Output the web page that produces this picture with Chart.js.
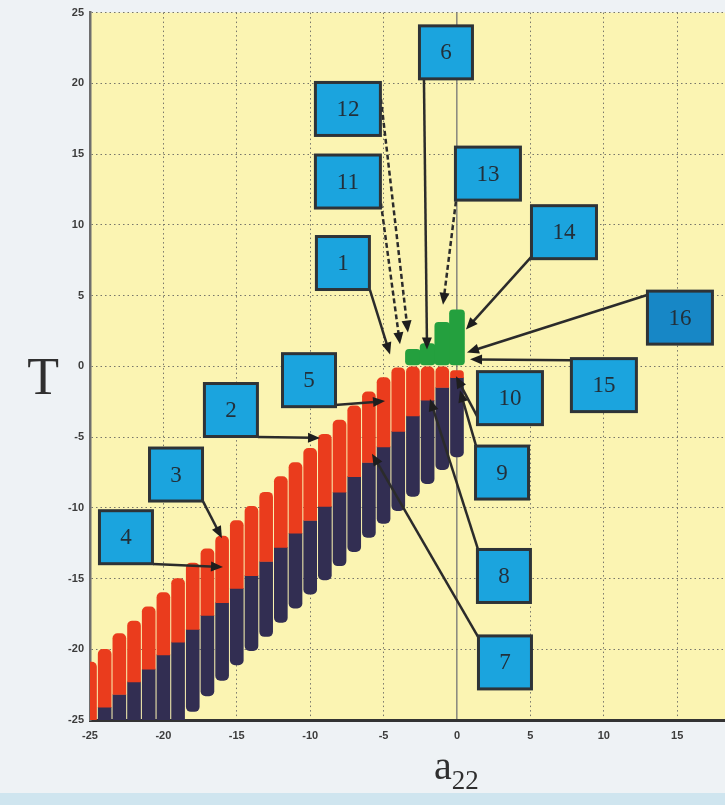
<!DOCTYPE html>
<html>
<head>
<meta charset="utf-8">
<script src="https://cdn.jsdelivr.net/npm/chart.js@4"></script>
<style>
  html, body { margin: 0; padding: 0; background: #eef2f5; }
  #wrap { width: 725px; height: 805px; }
</style>
</head>
<body>
<div id="wrap"><canvas id="chart" width="725" height="805"></canvas></div>
<script>
// a22 positions of the point columns
const columnA22 = [-25, -24, -23, -22, -21, -20, -19, -18, -17, -16, -15, -14, -13, -12, -11, -10, -9, -8, -7, -6, -5, -4, -3, -2, -1, 0];
// T range per column: dark region (low -> boundary), red region (boundary -> high)
const darkLowT  = [-25.5, -25.5, -25.5, -25.5, -25.5, -25.5, -25.5, -24.4, -23.3, -22.2, -21.1, -20.1, -19.1, -18.1, -17.1, -16.1, -15.1, -14.1, -13.1, -12.1, -11.1, -10.2, -9.2, -8.3, -7.3, -6.4];
const boundaryT = [-25.0, -24.1, -23.2, -22.3, -21.4, -20.4, -19.5, -18.6, -17.6, -16.7, -15.7, -14.8, -13.8, -12.8, -11.8, -10.9, -9.9, -8.9, -7.8, -6.8, -5.7, -4.6, -3.5, -2.4, -1.5, -0.8];
const redHighT  = [-20.9, -20.0, -18.9, -18.0, -17.0, -16.0, -15.0, -13.9, -12.9, -12.0, -10.9, -9.9, -8.9, -7.8, -6.8, -5.8, -4.8, -3.8, -2.8, -1.8, -0.8, -0.1, 0.0, 0.0, 0.0, -0.3];
// small green region above the tip
const greenA22 = [-3, -2, -1, 0];
const greenLowT = [0.1, 0.1, 0.1, 0.1];
const greenHighT = [1.2, 1.6, 3.1, 4.0];

const xTicks = [-25, -20, -15, -10, -5, 0, 5, 10, 15];
const yTicks = [-25, -20, -15, -10, -5, 0, 5, 10, 15, 20, 25];

// numbered callouts: box centre, arrow tail and arrow tip (a22, T)
const calloutLabels = ['1', '2', '3', '4', '5', '6', '7', '8', '9', '10', '11', '12', '13', '14', '15', '16'];
const calloutBoxX  = [-7.77, -15.40, -19.14, -22.55, -10.08, -0.75, 3.27, 3.20, 3.07, 3.61, -7.43, -7.43, 2.11, 7.29, 10.01, 15.19];
const calloutBoxY  = [7.30, -3.09, -7.65, -12.08, -0.98, 22.19, -20.93, -14.82, -7.51, -2.25, 13.06, 18.19, 13.62, 9.48, -1.33, 3.44];
const calloutTailX = [-5.93, -13.56, -17.30, -20.71, -8.31, -2.25, 1.43, 1.43, 1.36, 1.43, -5.18, -5.18, -0.07, 5.11, 7.83, 13.01];
const calloutTailY = [5.41, -4.99, -9.55, -13.97, -2.74, 20.29, -19.10, -12.92, -5.83, -3.65, 11.52, 18.89, 11.66, 7.79, 0.42, 5.06];
const calloutTipX  = [-4.56, -9.33, -16.01, -15.94, -4.90, -2.04, -5.79, -1.84, 0.20, -0.07, -3.88, -3.34, -0.95, 0.61, 0.89, 0.68];
const calloutTipY  = [0.84, -5.06, -12.15, -14.19, -2.46, 1.19, -6.18, -2.32, -1.69, -0.70, 1.55, 2.39, 4.35, 2.60, 0.49, 0.98];
const wideBoxes = ['10', '11', '12', '13', '14', '15', '16'];
const dashedArrows = ['11', '12', '13'];

const backdrop = {
  id: 'backdrop',
  beforeDraw(chart) {
    const { ctx, chartArea: a, width, height } = chart;
    ctx.save();
    ctx.fillStyle = '#eef2f5';
    ctx.fillRect(0, 0, width, height);
    ctx.fillStyle = '#cfe5ef';
    ctx.fillRect(0, height - 12, width, 12);
    ctx.fillStyle = '#fbf4b2';
    ctx.fillRect(a.left, a.top, a.right - a.left, a.bottom - a.top);
    ctx.restore();
  }
};

function arrow(ctx, x1, y1, x2, y2, dashed) {
  const ang = Math.atan2(y2 - y1, x2 - x1);
  const len = 12, half = 5;
  ctx.save();
  ctx.strokeStyle = '#2b2b2b';
  ctx.fillStyle = '#1e1e1e';
  ctx.lineWidth = 2.5;
  ctx.setLineDash(dashed ? [5, 3] : []);
  ctx.beginPath();
  ctx.moveTo(x1, y1);
  ctx.lineTo(x2 - Math.cos(ang) * len * 0.6, y2 - Math.sin(ang) * len * 0.6);
  ctx.stroke();
  ctx.setLineDash([]);
  ctx.beginPath();
  ctx.moveTo(x2, y2);
  ctx.lineTo(x2 - Math.cos(ang) * len + Math.sin(ang) * half, y2 - Math.sin(ang) * len - Math.cos(ang) * half);
  ctx.lineTo(x2 - Math.cos(ang) * len - Math.sin(ang) * half, y2 - Math.sin(ang) * len + Math.cos(ang) * half);
  ctx.closePath();
  ctx.fill();
  ctx.restore();
}

const callouts = {
  id: 'callouts',
  afterDraw(chart) {
    const { ctx, scales: { x, y } } = chart;
    // arrows first, boxes on top
    calloutLabels.forEach((lab, i) => {
      arrow(ctx,
        x.getPixelForValue(calloutTailX[i]), y.getPixelForValue(calloutTailY[i]),
        x.getPixelForValue(calloutTipX[i]), y.getPixelForValue(calloutTipY[i]),
        dashedArrows.includes(lab));
    });
    calloutLabels.forEach((lab, i) => {
      const w = wideBoxes.includes(lab) ? 65 : 53, h = 53;
      const cx = x.getPixelForValue(calloutBoxX[i]), cy = y.getPixelForValue(calloutBoxY[i]);
      ctx.save();
      ctx.fillStyle = lab === '16' ? '#1787c6' : '#1ba4de';
      ctx.strokeStyle = '#2e3337';
      ctx.lineWidth = 3;
      ctx.fillRect(cx - w / 2, cy - h / 2, w, h);
      ctx.strokeRect(cx - w / 2, cy - h / 2, w, h);
      ctx.fillStyle = '#22303b';
      ctx.font = '23px "Liberation Serif", "DejaVu Serif", serif';
      ctx.textAlign = 'center';
      ctx.textBaseline = 'middle';
      ctx.fillText(lab, cx, cy + 1);
      ctx.restore();
    });

    // axis titles
    const a = chart.chartArea;
    ctx.save();
    ctx.fillStyle = '#2f2f2f';
    ctx.font = '52px "Liberation Serif", "DejaVu Serif", serif';
    ctx.textAlign = 'center';
    ctx.textBaseline = 'middle';
    ctx.fillText('T', a.left * 0.48, (a.top + a.bottom) / 2 + 14);
    const tx = x.getPixelForValue(0) - 23, base = a.bottom + 59;
    ctx.textAlign = 'left';
    ctx.textBaseline = 'alphabetic';
    ctx.font = '40px "Liberation Serif", "DejaVu Serif", serif';
    ctx.fillText('a', tx, base);
    const aw = ctx.measureText('a').width;
    ctx.font = '27px "Liberation Serif", "DejaVu Serif", serif';
    ctx.fillText('22', tx + aw, base + 10);
    ctx.restore();
  }
};

const bars = (lo, hi) => columnA22.map((c, i) => ({ x: c, y: [lo[i], hi[i]] }));
const dotted = [1.5, 3];

new Chart(document.getElementById('chart'), {
  type: 'bar',
  data: {
    datasets: [
      {
        label: 'green',
        data: greenA22.map((c, i) => ({ x: c, y: [greenLowT[i], greenHighT[i]] })),
        backgroundColor: '#24a03e',
        barThickness: 15,
        borderRadius: 4,
        borderSkipped: false
      },
      {
        label: 'red',
        data: bars(boundaryT, redHighT),
        backgroundColor: '#ea3c1d',
        barThickness: 13,
        borderRadius: { topLeft: 5, topRight: 5, bottomLeft: 0, bottomRight: 0 },
        borderSkipped: false
      },
      {
        label: 'dark',
        data: bars(darkLowT, boundaryT),
        backgroundColor: '#322e52',
        barThickness: 13,
        borderRadius: { topLeft: 0, topRight: 0, bottomLeft: 5, bottomRight: 5 },
        borderSkipped: false
      }
    ]
  },
  options: {
    responsive: false,
    animation: false,
    grouped: false,
    layout: { padding: { top: 8, right: 0, left: 0, bottom: 0 } },
    plugins: { legend: { display: false }, tooltip: { enabled: false } },
    scales: {
      x: {
        type: 'linear',
        min: -25,
        max: 18.26,
        offset: false,
        afterBuildTicks: (axis) => { axis.ticks = xTicks.map(v => ({ value: v })); },
        afterFit: (s) => { s.height = 85; },
        ticks: {
          padding: 9,
          maxRotation: 0,
          color: '#3c3c3c',
          font: { family: '"Liberation Sans", Arial, sans-serif', size: 11, weight: 'bold' }
        },
        grid: {
          offset: false,
          drawTicks: false,
          color: (c) => c.tick && c.tick.value === 0 ? '#8d8c80' : '#77766a',
          lineWidth: (c) => c.tick && c.tick.value === 0 ? 1.6 : 1
        },
        border: {
          color: '#333333',
          width: 3,
          dash: (c) => c.tick && c.tick.value === 0 ? [] : dotted
        }
      },
      y: {
        min: -25,
        max: 25,
        afterBuildTicks: (axis) => { axis.ticks = yTicks.map(v => ({ value: v })); },
        afterFit: (s) => { s.width = 90; },
        ticks: {
          padding: 6,
          color: '#3c3c3c',
          font: { family: '"Liberation Sans", Arial, sans-serif', size: 11, weight: 'bold' }
        },
        grid: { drawTicks: false, color: '#77766a', lineWidth: 1 },
        border: { color: '#6e6e6e', width: 2.5, dash: dotted }
      }
    }
  },
  plugins: [backdrop, callouts]
});
</script>
</body>
</html>
